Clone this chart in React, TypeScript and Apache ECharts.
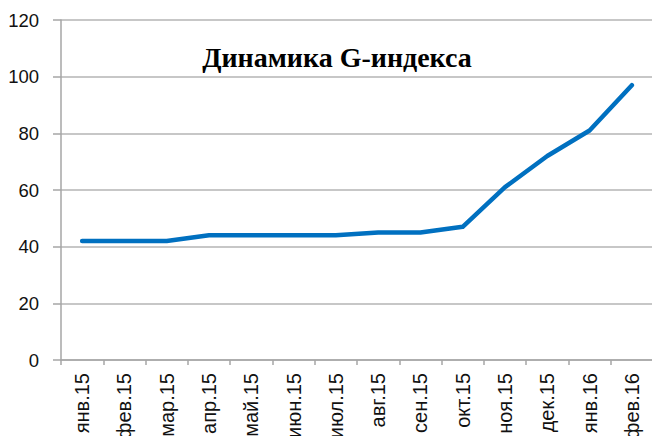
import React, { useEffect, useRef } from "react";
import * as echarts from "echarts";

const categories = ["янв.15", "фев.15", "мар.15", "апр.15", "май.15", "июн.15", "июл.15", "авг.15", "сен.15", "окт.15", "ноя.15", "дек.15", "янв.16", "фев.16"];
const gIndex = [42, 42, 42, 44, 44, 44, 44, 45, 45, 47, 61, 72, 81, 97];
const titleText = "Динамика G-индекса";

export default function App() {
  const ref = useRef<HTMLDivElement>(null);
  useEffect(() => {
    const chart = echarts.init(ref.current!, null, { renderer: "svg" });
    chart.setOption({
      animation: false,
      backgroundColor: "#ffffff",
      title: {
        text: titleText,
        left: 332,
        top: 38,
        textAlign: "center",
        textStyle: { fontFamily: "Liberation Serif", fontWeight: "bold", fontSize: 28, color: "#000" },
      },
      grid: { left: 61, top: 20, right: -1, bottom: 76, containLabel: false, outerBoundsMode: "none" },
      xAxis: {
        type: "category",
        data: categories,
        boundaryGap: true,
        axisLine: { show: true, lineStyle: { color: "#a6a6a6", width: 1.5 } },
        axisTick: { show: true, length: 5, alignWithLabel: false, lineStyle: { color: "#a6a6a6", width: 1.5 } },
        axisLabel: { rotate: 90, margin: 13, fontFamily: "Liberation Sans", fontSize: 20, color: "#111", interval: 0 },
        splitLine: { show: false },
      },
      yAxis: {
        type: "value",
        min: 0,
        max: 120,
        interval: 20,
        axisLine: { show: true, lineStyle: { color: "#a6a6a6", width: 1.5 } },
        axisTick: { show: true, length: 8, lineStyle: { color: "#a6a6a6", width: 1.5 } },
        axisLabel: { margin: 22, fontFamily: "Liberation Sans", fontSize: 18.5, color: "#111" },
        splitLine: { show: true, lineStyle: { color: "#b4b4b4", width: 1.5 } },
      },
      series: [
        {
          type: "line",
          data: gIndex,
          symbol: "none",
          lineStyle: { color: "#0070C0", width: 4.5, cap: "round", join: "round" },
        },
      ],
    });
    return () => chart.dispose();
  }, []);
  return <div ref={ref} style={{ position: "absolute", left: 0, top: 0, width: 652, height: 436 }} />;
}
